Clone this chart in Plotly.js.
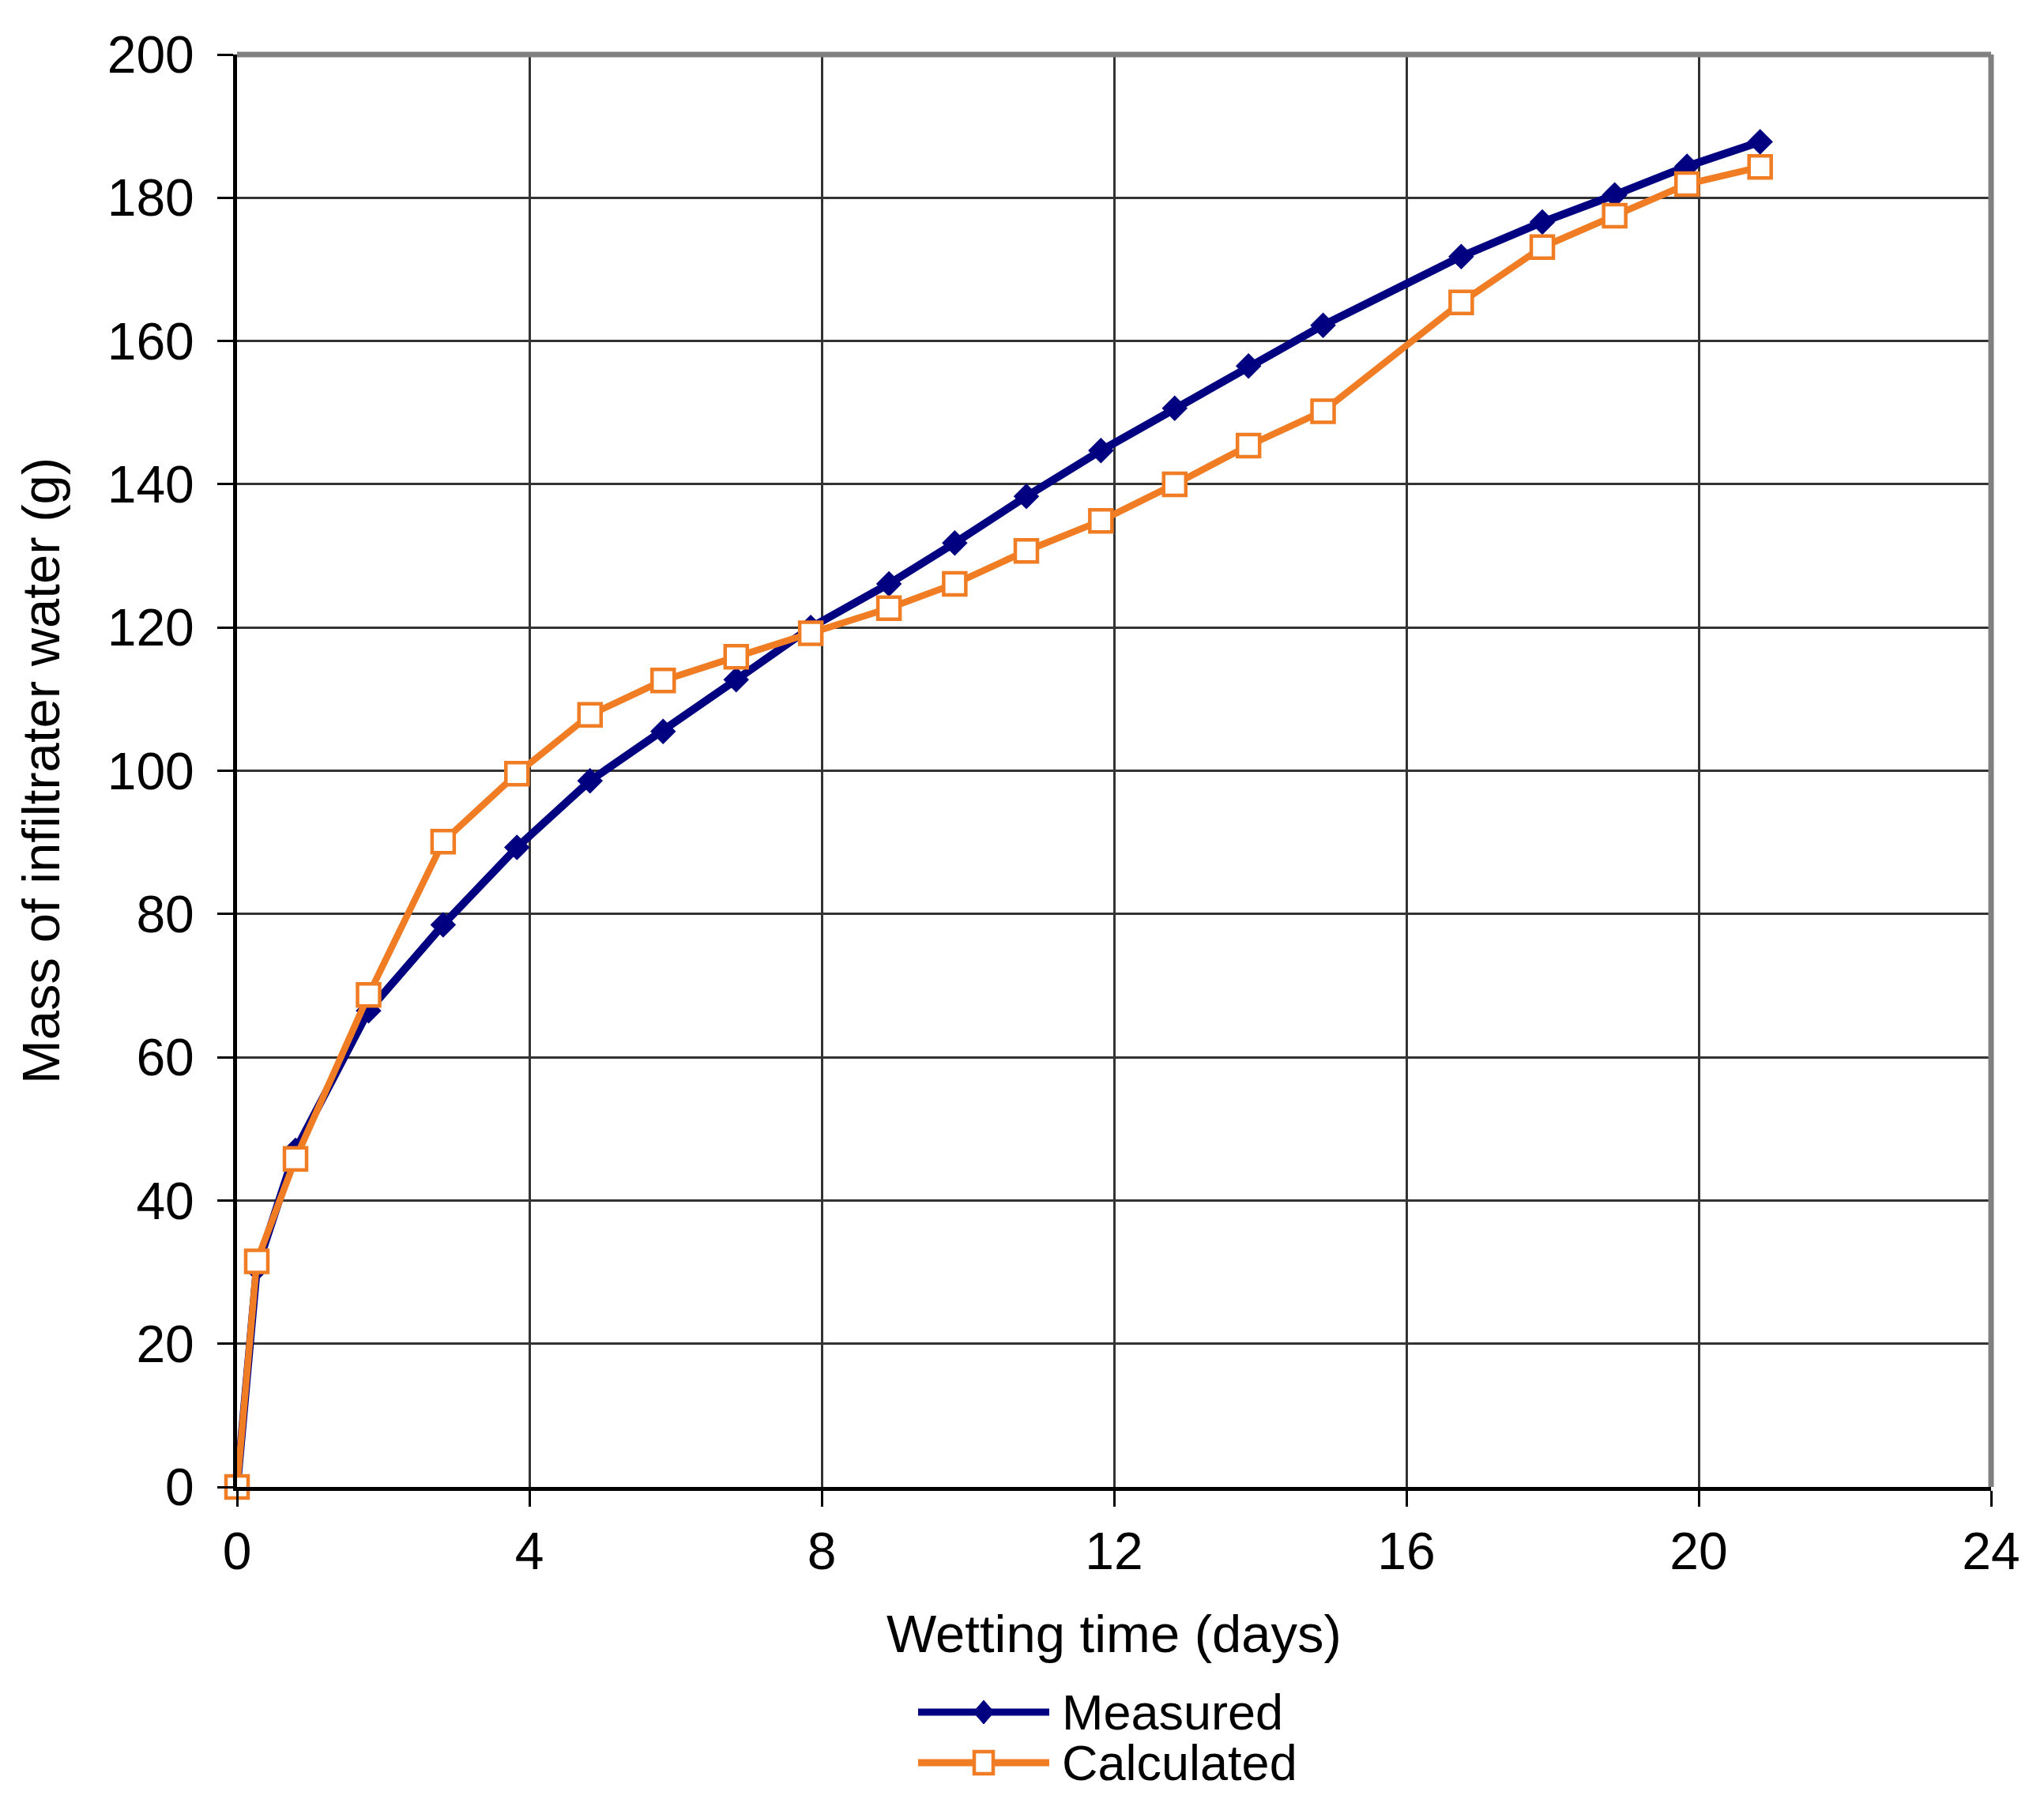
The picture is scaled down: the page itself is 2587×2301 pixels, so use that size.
<!DOCTYPE html>
<html>
<head>
<meta charset="utf-8">
<script src="https://cdn.plot.ly/plotly-3.0.1.min.js"></script>
<style>html,body{margin:0;padding:0;background:#fff;}#chart{width:2587px;height:2301px;}</style>
</head>
<body>
<div id="chart"></div>
<script>
// Data
const days = [0, 0.27, 0.8, 1.8, 2.82, 3.83, 4.83, 5.83, 6.83, 7.85, 8.92, 9.82, 10.8, 11.82, 12.83, 13.84, 14.86, 16.75, 17.86, 18.85, 19.84, 20.84];
const measured = [0, 30.5, 47, 66.5, 78.5, 89.3, 98.6, 105.5, 112.7, 120, 126.1, 131.8, 138.3, 144.7, 150.6, 156.5, 162.2, 171.8, 176.6, 180.4, 184.4, 187.8];
const calculated = [0, 31.5, 45.8, 68.7, 90.1, 99.6, 107.8, 112.6, 115.9, 119.2, 122.7, 126.1, 130.7, 134.9, 140.0, 145.4, 150.2, 165.4, 173.1, 177.5, 181.9, 184.3];
const seriesNames = ["Measured", "Calculated"];
const xTicks = [0, 4, 8, 12, 16, 20, 24];
const yTicks = [0, 20, 40, 60, 80, 100, 120, 140, 160, 180, 200];
const xTitle = "Wetting time (days)";
const yTitle = "Mass of infiltrater water (g)";

const navy = "#000080";
const orange = "#F07D24";
const FONT = "Liberation Sans, Arial, sans-serif";

const traces = [
  {
    x: days, y: measured, name: seriesNames[0], type: "scatter", mode: "lines+markers",
    line: {color: navy, width: 10},
    marker: {symbol: "diamond", size: 25, color: navy, line: {width: 0}},
    cliponaxis: false, showlegend: false
  },
  {
    x: days, y: calculated, name: seriesNames[1], type: "scatter", mode: "lines+markers",
    line: {color: orange, width: 8.5},
    marker: {symbol: "square", size: 28, color: "#ffffff", line: {color: orange, width: 4.5}},
    cliponaxis: false, showlegend: false
  }
];

// plot area in pixels: left 300, right 2520, top 69, bottom 1882
const W = 2587, H = 2301, L = 300, R = 2587 - 2520, T = 69, B = 2301 - 1882;
const PW = W - L - R, PH = H - T - B;
const px2x = p => (p - L) / PW;
const py2y = p => (H - B - p) / PH;

// custom Excel-style legend (long key lines)
const legendRows = [
  {name: seriesNames[0], color: navy, sym: "diamond", y: 2167},
  {name: seriesNames[1], color: orange, sym: "square", y: 2231}
];
const shapes = [
  // grey frame top and right
  {type: "line", xref: "paper", yref: "paper", x0: 0, x1: 1, y0: 1, y1: 1, line: {color: "#808080", width: 7}, layer: "above"},
  {type: "line", xref: "paper", yref: "paper", x0: 1, x1: 1, y0: 0, y1: 1, line: {color: "#808080", width: 7}, layer: "above"}
];
const annotations = [];
legendRows.forEach(r => {
  shapes.push({type: "line", xref: "paper", yref: "paper", x0: px2x(1162), x1: px2x(1328), y0: py2y(r.y), y1: py2y(r.y),
    line: {color: r.color, width: 9}});
  if (r.sym === "diamond") {
    shapes.push({type: "path", xref: "paper", yref: "paper", xsizemode: "pixel", ysizemode: "pixel",
      xanchor: px2x(1245), yanchor: py2y(r.y), path: "M0,15 L13,0 L0,-15 L-13,0 Z",
      fillcolor: r.color, line: {color: r.color, width: 1}});
  } else {
    shapes.push({type: "rect", xref: "paper", yref: "paper", xsizemode: "pixel", ysizemode: "pixel",
      xanchor: px2x(1245), yanchor: py2y(r.y), x0: -12, x1: 12, y0: -14, y1: 14,
      fillcolor: "#ffffff", line: {color: r.color, width: 4.5}});
  }
  annotations.push({xref: "paper", yref: "paper", x: px2x(1342), y: py2y(r.y), xanchor: "left", yanchor: "middle",
    text: r.name, showarrow: false, font: {family: FONT, size: 63, color: "#000"}});
});

const layout = {
  width: W, height: H,
  paper_bgcolor: "#ffffff", plot_bgcolor: "#ffffff",
  margin: {l: L, r: R, t: T, b: B, pad: 0},
  font: {family: FONT, size: 66, color: "#000"},
  showlegend: false,
  xaxis: {
    range: [0, 24], tickvals: xTicks, ticktext: xTicks.map(String),
    showgrid: true, gridcolor: "#333333", gridwidth: 3,
    zeroline: false, showline: true, linecolor: "#000", linewidth: 5,
    ticks: "outside", ticklen: 20, tickwidth: 3, tickcolor: "#000",
    ticklabelstandoff: 0,
    tickfont: {family: FONT, size: 66, color: "#000"},
    title: {text: xTitle, font: {family: FONT, size: 67, color: "#000"}, standoff: 46},
    automargin: false, fixedrange: true
  },
  yaxis: {
    range: [0, 200], tickvals: yTicks, ticktext: yTicks.map(String),
    showgrid: true, gridcolor: "#333333", gridwidth: 3,
    zeroline: false, showline: true, linecolor: "#000", linewidth: 5,
    ticks: "outside", ticklen: 20, tickwidth: 3, tickcolor: "#000",
    ticklabelstandoff: 16,
    tickfont: {family: FONT, size: 66, color: "#000"},
    title: {text: yTitle, font: {family: FONT, size: 67, color: "#000"}, standoff: 40},
    automargin: false, fixedrange: true
  },
  shapes: shapes,
  annotations: annotations
};

Plotly.newPlot("chart", traces, layout, {staticPlot: true, displayModeBar: false});
</script>
</body>
</html>
